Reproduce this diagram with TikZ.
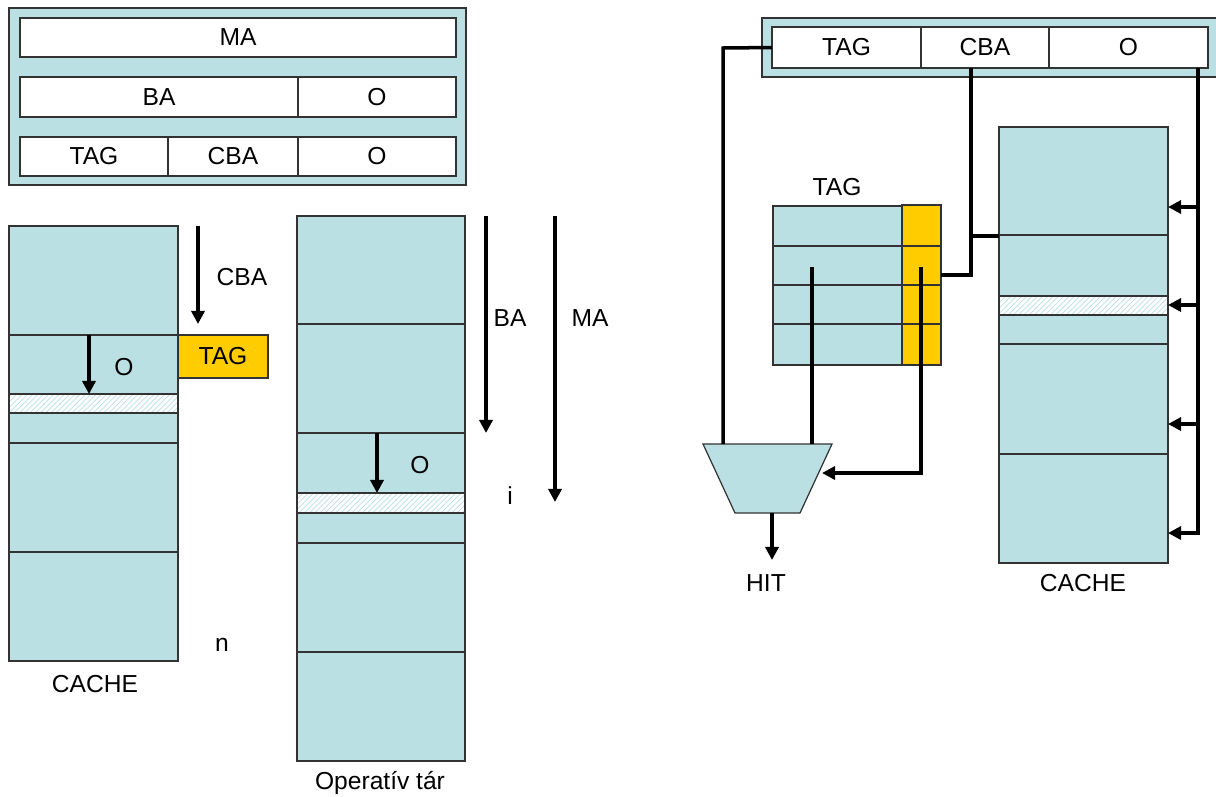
\documentclass[tikz,border=0pt]{standalone}
\usepackage{fontspec}
\setmainfont{Liberation Sans}
\usetikzlibrary{arrows.meta,patterns,fit}
\definecolor{cfill}{HTML}{BBE0E3}
\definecolor{yfill}{HTML}{FFCC00}
\definecolor{edge}{HTML}{333333}
\begin{document}
\begin{tikzpicture}[x=0.02cm,y=-0.02cm,
 box/.style={draw=edge, line width=0.7pt, fill=cfill, inner sep=0pt, outer sep=0pt},
 wbox/.style={box, fill=white},
 ybox/.style={box, fill=yfill},
 conn/.style={line width=2pt, line cap=butt, line join=miter},
 arr/.style={conn, -{Triangle[length=7.5pt,width=7.5pt]}},
 lbl/.style={font=\fontsize{14}{16}\selectfont, inner sep=0pt},
 sep/.style={draw=edge, line width=0.7pt},
 hatch/.style={fill=white, postaction={pattern=north east lines, pattern color=cfill}}]
\useasboundingbox (0,0) rectangle (1216,796);

% ---------- top-left address formats
\node[box, fit={(9,8) (466,185)}] (panelL) {};
\node[wbox, fit={(20,18) (456,57)}] (ma) {};
\node[lbl] at (ma) {MA};
\node[wbox, fit={(20,77) (298,117)}] (ba) {};
\node[lbl] at (ba) {BA};
\node[wbox, fit={(298,77) (456,117)}] (o1) {};
\node[lbl] at (o1) {O};
\node[wbox, fit={(20,137) (168,176)}] (tag1) {};
\node[lbl] at (tag1) {TAG};
\node[wbox, fit={(168,137) (298,176)}] (cba1) {};
\node[lbl] at (cba1) {CBA};
\node[wbox, fit={(298,137) (456,176)}] (o2) {};
\node[lbl] at (o2) {O};

% ---------- left cache
\node[box, fit={(9,226) (178,661)}] (cacheL) {};
\path[hatch] (9,394) rectangle (178,413);
\draw[sep] (9,335) -- (178,335);
\draw[sep] (9,394) -- (178,394);
\draw[sep] (9,413) -- (178,413);
\draw[sep] (9,443) -- (178,443);
\draw[sep] (9,552) -- (178,552);
\draw[sep] (cacheL.north west) rectangle (cacheL.south east);
\node[ybox, fit={(178,335) (268,378)}] (tagL) {};
\node[lbl] at (tagL) {TAG};
\coordinate (cbaS) at (198,226);
\coordinate (cbaE) at (198,324);
\draw[arr] (cbaS) -- (cbaE);
\node[lbl] at (242,277) {CBA};
\coordinate (oLS) at (89,335);
\coordinate (oLE) at (89,394);
\draw[arr] (oLS) -- (oLE);
\node[lbl] at (124,367) {O};
\node[lbl] at (95,684) {CACHE};
\node[lbl] at (222,645) {n};

% ---------- main memory
\node[box, fit={(297,216) (465,761)}] (mem) {};
\path[hatch] (297,493) rectangle (465,513);
\draw[sep] (297,324) -- (465,324);
\draw[sep] (297,433) -- (465,433);
\draw[sep] (297,493) -- (465,493);
\draw[sep] (297,513) -- (465,513);
\draw[sep] (297,543) -- (465,543);
\draw[sep] (297,652) -- (465,652);
\draw[sep] (mem.north west) rectangle (mem.south east);
\coordinate (baS) at (486,216);
\coordinate (baE) at (486,433);
\draw[arr] (baS) -- (baE);
\node[lbl] at (510,318) {BA};
\coordinate (maS) at (555,216);
\coordinate (maE) at (555,502);
\draw[arr] (maS) -- (maE);
\node[lbl] at (590,318) {MA};
\coordinate (oMS) at (377,433);
\coordinate (oME) at (377,493);
\draw[arr] (oMS) -- (oME);
\node[lbl] at (420,465) {O};
\node[lbl] at (510,496) {i};
\node[lbl] at (380,783) {Operatív tár};

% ---------- right: address register
\node[box, fit={(762,18) (1225,77)}] (panelR) {};
\node[wbox, fit={(772,27) (921,68)}] (tagR) {};
\node[lbl] at (tagR) {TAG};
\node[wbox, fit={(921,27) (1049,68)}] (cbaR) {};
\node[lbl] at (cbaR) {CBA};
\node[wbox, fit={(1049,27) (1208,68)}] (oR) {};
\node[lbl] at (oR) {O};

% ---------- tag array
\node[box, fit={(773,206) (902,365)}] (tagarr) {};
\node[ybox, fit={(902,205) (941,365)}] (tagcol) {};
\draw[sep] (773,246) -- (941,246);
\draw[sep] (773,285) -- (941,285);
\draw[sep] (773,324) -- (941,324);
\node[lbl] at (837,187) {TAG};

% ---------- comparator
\coordinate (muxN) at (767.5,444);
\coordinate (muxS) at (767.5,513);
\draw[box] (703,444) -- (832,444) -- (800,513) -- (735,513) -- cycle;

% ---------- right cache
\node[box, fit={(999,127) (1168,563)}] (cacheR) {};
\path[hatch] (999,296) rectangle (1168,315);
\draw[sep] (999,235) -- (1168,235);
\draw[sep] (999,296) -- (1168,296);
\draw[sep] (999,315) -- (1168,315);
\draw[sep] (999,344) -- (1168,344);
\draw[sep] (999,454) -- (1168,454);
\draw[sep] (cacheR.north west) rectangle (cacheR.south east);
\node[lbl] at (1083,583) {CACHE};

% ---------- connectors
\coordinate (tj) at (723,48);
\draw[conn] (tagR.west) -- (tj) -- (tj |- muxN);
\coordinate (ts) at (812,267);
\draw[conn] (ts) -- (ts |- muxN);
\coordinate (ys) at (921,267);
\coordinate (yc) at (921,473);
\coordinate (muxin) at (822,473);
\draw[arr] (ys) -- (yc) -- (muxin);
\coordinate (hitE) at (772,560);
\draw[arr] (hitE |- muxS) -- (hitE);
\node[lbl] at (766,583) {HIT};

\coordinate (cb) at (971,275);
\draw[conn] (cbaR.south -| cb) -- (cb) -- (tagcol.east |- cb);
\coordinate (cbj) at (971,236);
\draw[conn] (cbj) -- (cacheR.west |- cbj);

\coordinate (oa) at (1198,207);
\coordinate (ob) at (1198,305);
\coordinate (oc) at (1198,424);
\coordinate (od) at (1198,533);
\draw[arr] (oR.south -| od) -- (od) -- (cacheR.east |- od);
\draw[arr] (oa) -- (cacheR.east |- oa);
\draw[arr] (ob) -- (cacheR.east |- ob);
\draw[arr] (oc) -- (cacheR.east |- oc);
\end{tikzpicture}
\end{document}
